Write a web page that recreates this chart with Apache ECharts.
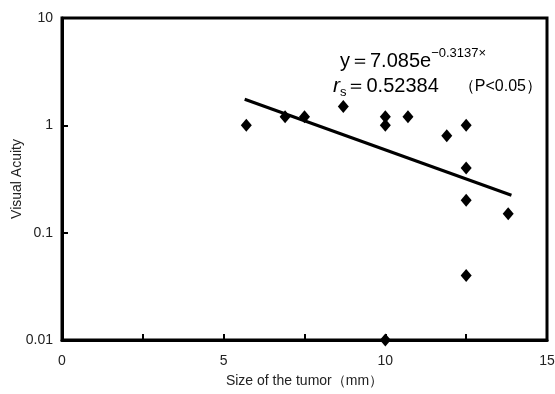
<!DOCTYPE html>
<html>
<head>
<meta charset="utf-8">
<script src="https://cdn.jsdelivr.net/npm/echarts@6/dist/echarts.min.js"></script>
<style>
html,body{margin:0;padding:0;background:#fff;}
#c{width:555px;height:394px;}
</style>
</head>
<body>
<div id="c"></div>
<script>
// Data
var sizeMm = [5.7, 6.9, 7.5, 8.7, 10, 10, 10.7, 11.9, 12.5, 12.5, 12.5, 12.5, 13.8, 10];
var acuity = [1.0, 1.2, 1.2, 1.5, 1.2, 1.0, 1.2, 0.8, 1.0, 0.4, 0.2, 0.04, 0.15, 0.01];
var trendX = [5.65, 13.9];
var trendY = [1.75, 0.223];
var xTickLabels = [0, 5, 10, 15];
var yTickLabels = [0.01, 0.1, 1, 10];

var pts = sizeMm.map(function (x, i) { return [x, acuity[i]]; });
var trend = trendX.map(function (x, i) { return [x, trendY[i]]; });
var font = '"Liberation Sans", Arial, sans-serif';

var chart = echarts.init(document.getElementById('c'), null, { renderer: 'canvas' });
chart.setOption({
  animation: false,
  backgroundColor: '#fff',
  grid: { left: 62, right: 8, top: 18, bottom: 54, show: true, borderColor: '#000', borderWidth: 3, backgroundColor: 'transparent', containLabel: false, outerBoundsMode: 'none' },
  xAxis: {
    type: 'value', min: 0, max: 15, interval: 2.5,
    name: 'Size of the tumor（mm）', nameLocation: 'middle', nameGap: 34, nameMoveOverlap: false,
    nameTextStyle: { fontFamily: font, fontSize: 14, color: '#222' },
    axisLine: { show: true, lineStyle: { color: '#000', width: 3 } },
    axisTick: { show: true, inside: true, length: 6, lineStyle: { color: '#000', width: 2 } },
    splitLine: { show: false },
    axisLabel: {
      margin: 14, fontFamily: font, fontSize: 14, color: '#222',
      formatter: function (v) { return xTickLabels.indexOf(v) >= 0 ? String(v) : ''; }
    }
  },
  yAxis: {
    type: 'log', logBase: 10, min: 0.01, max: 10,
    name: 'Visual Acuity', nameLocation: 'middle', nameGap: 38, nameRotate: 90, nameMoveOverlap: false,
    nameTextStyle: { fontFamily: font, fontSize: 14, color: '#222' },
    axisLine: { show: true, lineStyle: { color: '#000', width: 3 } },
    axisTick: { show: true, inside: true, length: 6, lineStyle: { color: '#000', width: 2 } },
    splitLine: { show: false },
    axisLabel: {
      margin: 9, fontFamily: font, fontSize: 14, color: '#222',
      formatter: function (v) {
        for (var i = 0; i < yTickLabels.length; i++) {
          if (Math.abs(v - yTickLabels[i]) < yTickLabels[i] * 1e-6) return String(yTickLabels[i]);
        }
        return '';
      }
    }
  },
  series: [
    {
      type: 'line', data: trend, symbol: 'none', z: 3,
      lineStyle: { color: '#000', width: 3 }
    },
    {
      type: 'scatter', data: pts, symbol: 'diamond', symbolSize: [11, 13], clip: false, z: 4,
      itemStyle: { color: '#000', opacity: 1 }
    }
  ],
  graphic: [
    {
      type: 'text', left: 340, top: 47,
      style: {
        text: '{m|y＝7.085e}{s|−0.3137×}',
        rich: {
          m: { fontFamily: font, fontSize: 20, fill: '#000', verticalAlign: 'bottom', lineHeight: 24 },
          s: { fontFamily: font, fontSize: 13, fill: '#000', verticalAlign: 'top', padding: [0, 0, 10, 0] }
        }
      }
    },
    {
      type: 'text', left: 333, top: 76,
      style: {
        text: '{r|r}{s|s}{m|＝0.52384}{p|（P<0.05）}',
        rich: {
          r: { fontFamily: font, fontSize: 21, fontStyle: 'italic', fill: '#000' },
          s: { fontFamily: font, fontSize: 13, fill: '#000', padding: [12, 0, 0, 0] },
          m: { fontFamily: font, fontSize: 20, fill: '#000' },
          p: { fontFamily: font, fontSize: 16, fill: '#000', padding: [0, 0, 0, 20] }
        }
      }
    }
  ]
});
</script>
</body>
</html>
